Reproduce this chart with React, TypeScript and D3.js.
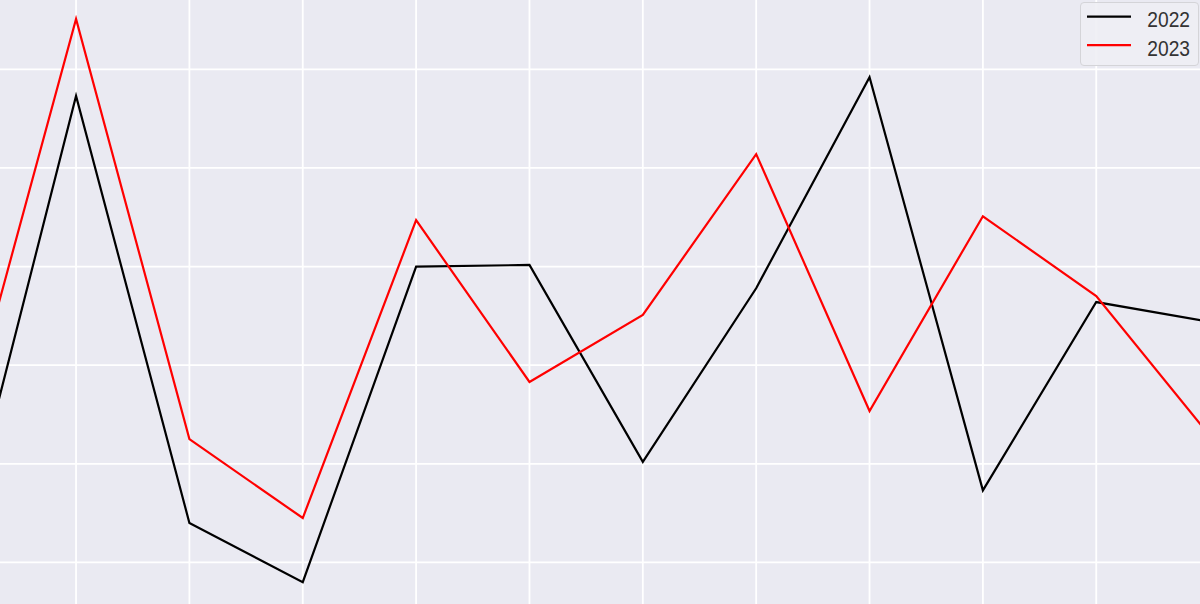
import React from "react";
import * as d3 from "d3";

const months = ["Jan", "Feb", "Mar", "Apr", "May", "Jun", "Jul", "Aug", "Sep", "Oct", "Nov", "Dec"];
const series2022 = [12.1, 57.3, 14.0, 8.0, 40.0, 40.16, 20.2, 37.8, 59.2, 17.3, 36.4, 34.4];
const series2023 = [22.85, 65.1, 22.5, 14.5, 44.7, 28.3, 35.1, 51.4, 25.35, 45.1, 37.0, 22.85];
const yTicks = [10, 20, 30, 40, 50, 60];
const seriesNames = ["2022", "2023"];
const seriesColors = ["#000000", "#ff0000"];

const W = 1200;
const H = 604;

export default function App() {
  const x = d3.scaleLinear().domain([0, months.length - 1]).range([-37.3, 1209.6]);
  const y = d3.scaleLinear().domain([10, 60]).range([562.4, 69.3]);
  const line = d3
    .line<number>()
    .x((_, i) => x(i))
    .y((d) => y(d));
  const all = [series2022, series2023];

  return (
    <svg
      width={W}
      height={H}
      style={{ position: "fixed", left: 0, top: 0, display: "block" }}
      viewBox={`0 0 ${W} ${H}`}
    >
      <defs>
        <clipPath id="plot">
          <rect x={0} y={0} width={W} height={H} />
        </clipPath>
      </defs>
      <rect x={0} y={0} width={W} height={H} fill="#EAEAF2" />
      <g clipPath="url(#plot)">
        {months.map((m, i) => (
          <line key={m} x1={x(i)} x2={x(i)} y1={0} y2={H} stroke="#ffffff" strokeWidth={1.8} />
        ))}
        {yTicks.map((t) => (
          <line key={t} x1={0} x2={W} y1={y(t)} y2={y(t)} stroke="#ffffff" strokeWidth={1.8} />
        ))}
        {all.map((s, k) => (
          <path
            key={seriesNames[k]}
            d={line(s) || ""}
            fill="none"
            stroke={seriesColors[k]}
            strokeWidth={2.2}
            strokeLinejoin="miter"
          />
        ))}
      </g>
      <g>
        <rect
          x={1080.5}
          y={2.5}
          width={118}
          height={63}
          rx={3.5}
          fill="#EEEEF4"
          fillOpacity={0.9}
          stroke="#D4D4D8"
          strokeWidth={1}
        />
        {seriesNames.map((n, k) => {
          const ly = 16.7 + k * 28.5;
          return (
            <g key={n}>
              <line x1={1087} x2={1131} y1={ly} y2={ly} stroke={seriesColors[k]} strokeWidth={2.2} />
              <text
                transform={`translate(1147.3, ${26.7 + k * 29.3}) scale(1, 1.16)`}
                fontFamily="Liberation Sans, Arial, sans-serif"
                fontSize={19.2}
                fill="#333333"
              >
                {n}
              </text>
            </g>
          );
        })}
      </g>
    </svg>
  );
}
